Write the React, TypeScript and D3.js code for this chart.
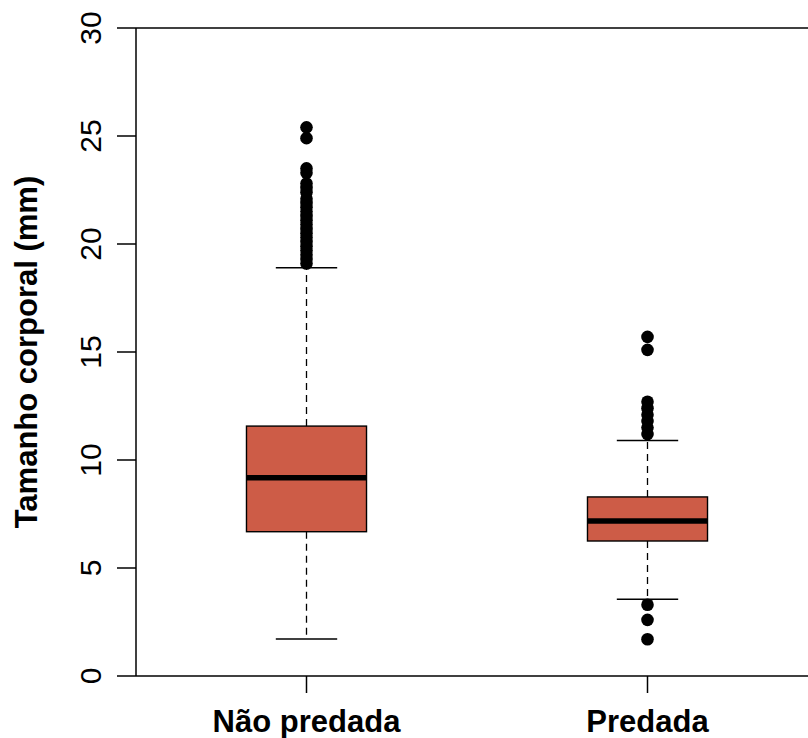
import React, { useEffect, useRef } from "react";
import * as d3 from "d3";

// groups and five-number summaries
const groups = ["Não predada", "Predada"];
const q1 = [6.68, 6.25];
const medians = [9.18, 7.18];
const q3 = [11.57, 8.29];
const whiskerLow = [1.71, 3.55];
const whiskerHigh = [18.9, 10.9];
const outliersNaoPredada = [
  25.4, 24.9, 23.5, 23.3, 22.8, 22.6, 22.4, 22.1, 21.9, 21.7, 21.5, 21.3,
  21.1, 20.9, 20.7, 20.5, 20.3, 20.1, 19.9, 19.7, 19.5, 19.3, 19.1
];
const outliersPredada = [15.7, 15.1, 12.7, 12.4, 12.1, 11.8, 11.5, 11.2, 3.3, 2.6, 1.7];
const yTicks = [0, 5, 10, 15, 20, 25, 30];

const App = () => {
  const svgRef = useRef<SVGSVGElement>(null);

  useEffect(() => {
    const width = 808;
    const height = 738;
    const left = 136;
    const right = 818;
    const top = 28;
    const bottom = 676;
    const fontFamily = "'Liberation Sans', Arial, sans-serif";

    d3.select(svgRef.current).selectAll("*").remove();

    const svg = d3.select(svgRef.current)
        .attr("width", width)
        .attr("height", height);

    const x = d3.scaleLinear().domain([0.5, 2.5]).range([left, right]);
    const y = d3.scaleLinear().domain([0, 30]).range([bottom, top]);

    const boxHalf = 0.176;
    const capHalf = 0.09;
    const outliers = [outliersNaoPredada, outliersPredada];

    groups.forEach((g, i) => {
      const cx = x(i + 1);
      const grp = svg.append("g");

      // dashed whiskers
      grp.append("line")
          .attr("x1", cx).attr("x2", cx)
          .attr("y1", y(q3[i])).attr("y2", y(whiskerHigh[i]))
          .attr("stroke", "#000").attr("stroke-width", 1.3)
          .attr("stroke-dasharray", "7,5");
      grp.append("line")
          .attr("x1", cx).attr("x2", cx)
          .attr("y1", y(q1[i])).attr("y2", y(whiskerLow[i]))
          .attr("stroke", "#000").attr("stroke-width", 1.3)
          .attr("stroke-dasharray", "7,5");

      // staples
      [whiskerLow[i], whiskerHigh[i]].forEach(v => {
        grp.append("line")
            .attr("x1", x(i + 1 - capHalf)).attr("x2", x(i + 1 + capHalf))
            .attr("y1", y(v)).attr("y2", y(v))
            .attr("stroke", "#000").attr("stroke-width", 1.5);
      });

      // box
      grp.append("rect")
          .attr("x", x(i + 1 - boxHalf))
          .attr("y", y(q3[i]))
          .attr("width", x(i + 1 + boxHalf) - x(i + 1 - boxHalf))
          .attr("height", y(q1[i]) - y(q3[i]))
          .attr("fill", "#CD5C47")
          .attr("stroke", "#000")
          .attr("stroke-width", 1.4);

      // median
      grp.append("line")
          .attr("x1", x(i + 1 - boxHalf)).attr("x2", x(i + 1 + boxHalf))
          .attr("y1", y(medians[i])).attr("y2", y(medians[i]))
          .attr("stroke", "#000").attr("stroke-width", 5.5);

      // outliers
      grp.selectAll("circle.out")
          .data(outliers[i])
          .enter()
          .append("circle")
          .attr("cx", cx)
          .attr("cy", d => y(d))
          .attr("r", 6.3)
          .attr("fill", "#000");
    });

    // frame lines (top and bottom), right edge falls outside the picture
    svg.append("line")
        .attr("x1", left).attr("x2", right)
        .attr("y1", top).attr("y2", top)
        .attr("stroke", "#000").attr("stroke-width", 1.5);
    svg.append("line")
        .attr("x1", left).attr("x2", right)
        .attr("y1", bottom).attr("y2", bottom)
        .attr("stroke", "#000").attr("stroke-width", 1.5);

    // y axis
    svg.append("line")
        .attr("x1", left).attr("x2", left)
        .attr("y1", top).attr("y2", bottom)
        .attr("stroke", "#000").attr("stroke-width", 1.5);
    yTicks.forEach(t => {
      svg.append("line")
          .attr("x1", left - 19).attr("x2", left)
          .attr("y1", y(t)).attr("y2", y(t))
          .attr("stroke", "#000").attr("stroke-width", 1.5);
      svg.append("text")
          .attr("transform", `translate(101, ${y(t)}) rotate(-90)`)
          .attr("text-anchor", "middle")
          .style("font-family", fontFamily)
          .style("font-size", "30px")
          .text(t);
    });

    svg.append("text")
        .attr("transform", `translate(37, ${(top + bottom) / 2}) rotate(-90)`)
        .attr("text-anchor", "middle")
        .style("font-family", fontFamily)
        .style("font-size", "31px")
        .style("font-weight", "bold")
        .text("Tamanho corporal (mm)");

    // x axis ticks and labels
    groups.forEach((g, i) => {
      svg.append("line")
          .attr("x1", x(i + 1)).attr("x2", x(i + 1))
          .attr("y1", bottom).attr("y2", bottom + 17)
          .attr("stroke", "#000").attr("stroke-width", 1.5);
      svg.append("text")
          .attr("x", x(i + 1))
          .attr("y", 732)
          .attr("text-anchor", "middle")
          .style("font-family", fontFamily)
          .style("font-size", "31px")
          .style("font-weight", "bold")
          .text(g);
    });
  }, []);

  return (
    <div style={{ position: "absolute", left: 0, top: 0, width: 808, height: 738, background: "#fff" }}>
      <svg ref={svgRef} style={{ display: "block" }}></svg>
    </div>
  );
};

export default App;
